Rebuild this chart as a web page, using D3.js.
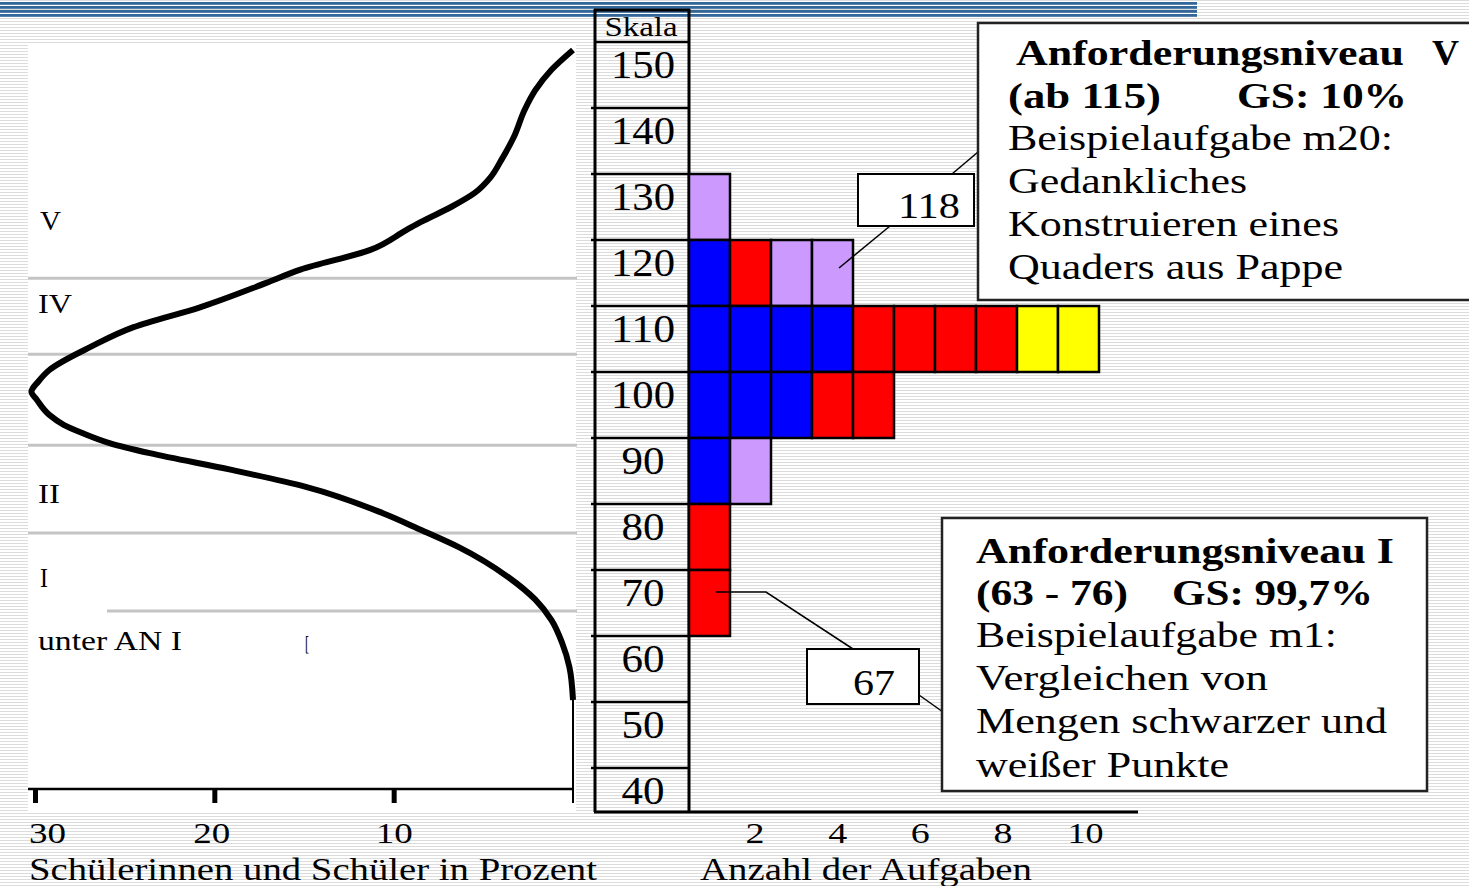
<!DOCTYPE html>
<html>
<head>
<meta charset="utf-8">
<script src="https://cdnjs.cloudflare.com/ajax/libs/d3/7.8.5/d3.min.js"></script>
<style>
body{margin:0;background:#fff;}
svg{display:block;}
svg text{font-family:"Liberation Serif",Tinos,"Times New Roman",Times,"Nimbus Roman",serif;}
</style>
</head>
<body>
<svg id="chart" width="1469" height="886"></svg>
<script>
// Skala rows and number of tasks (Aufgaben) per row, per colour
var scaleRows = [150,140,130,120,110,100,90,80,70,60,50,40];
var barRows = [130,120,110,100,90,80,70];
var blueTasks = [0,1,4,3,1,0,0];
var redTasks = [0,1,4,2,0,1,1];
var lilacTasks = [1,2,0,0,1,0,0];
var yellowTasks = [0,0,2,0,0,0,0];
var taskTicks = [2,4,6,8,10];

// distribution of pupils (percent) along the scale
var curveScale = [158.8,155.8,152.7,149.7,145.6,142.1,139.5,137.1,135.0,132.7,131.5,128.5,125.5,123.5,119.8,116.8,113.8,110.3,108.6,107.0,105.8,103.5,102.0,100.8,99.2,97.7,95.2,92.6,88.6,86.1,83.5,78.9,75.5,72.4,68.9,65.3,60.3];
var curvePercent = [0.0,1.2,2.1,2.7,3.3,4.0,4.6,5.5,6.8,8.5,9.3,11.3,15.2,17.1,20.8,24.5,26.9,29.2,29.8,30.2,29.9,29.2,28.4,27.4,25.8,23.6,19.1,14.9,10.6,8.5,6.4,3.6,2.1,1.2,0.6,0.2,0.0];
var percentTicks = [30,20,10];

// Anforderungsniveaus on the left panel
var levelBounds = [124.2,112.7,98.9,85.6,73.8];
var levelNames = ["V","IV","II","I","unter AN I"];
var levelLabelAt = [131.5,118.9,90.2,77.4,67.9];

var svg = d3.select('#chart');
var W = 1469, H = 886;
var serif = '"Liberation Serif",Tinos,"Times New Roman",Times,serif';

var y = d3.scaleLinear().domain([160,40]).range([42,834]);
var xTask = d3.scaleLinear().domain([0,10]).range([689,1099]);
var xTaskLabel = d3.scaleLinear().domain([0,10]).range([672,1085]);
var xPct = d3.scaleLinear().domain([0,30]).range([573,35]);
var color = {blue:'#0000ff', red:'#ff0000', lilac:'#cc99ff', yellow:'#ffff00'};

function label(sel, s, x, yb, size, width, bold, anchor){
    var t = sel.append('text').attr('x',x).attr('y',yb).attr('font-size',size)
        .attr('font-family',serif).attr('fill','#000').text(s);
    if (bold) t.attr('font-weight','bold');
    if (anchor) t.attr('text-anchor',anchor);
    if (width) t.attr('textLength',width).attr('lengthAdjust','spacingAndGlyphs');
    return t;
}

// striped slide background
var pat = svg.append('defs').append('pattern').attr('id','stripes')
    .attr('width',8).attr('height',3).attr('patternUnits','userSpaceOnUse');
pat.append('rect').attr('width',8).attr('height',3).attr('fill','#fff');
pat.append('rect').attr('width',8).attr('height',1).attr('fill','#dcdcdc');
svg.append('rect').attr('width',W).attr('height',H).attr('fill','url(#stripes)');

// blue header lines
svg.append('g').selectAll('rect').data([2,6,10,14]).enter().append('rect')
    .attr('x',0).attr('y',d => d).attr('width',1197).attr('height',2.8).attr('fill','#336699');

// ---------- left panel: distribution curve ----------
var left = svg.append('g');
left.append('rect').attr('x',28).attr('y',45).attr('width',548).attr('height',767).attr('fill','#fff');

left.selectAll('line.level').data(levelBounds).enter().append('line')
    .attr('class','level')
    .attr('x1',(d,i) => i == levelBounds.length-1 ? 107 : 28).attr('x2',577)
    .attr('y1',d => y(d)).attr('y2',d => y(d))
    .style('stroke','#c4c4c4').style('stroke-width',3);

var levelWidths = [21,34,22,8,144];
var levelX = [40,38,38,40,38];
levelNames.forEach(function(n,i){
    label(left, n, levelX[i], y(levelLabelAt[i]), 27, levelWidths[i]);
});
label(left, '[', 305, y(levelLabelAt[4]), 22, 4);

var curve = curveScale.map((v,i) => [xPct(curvePercent[i]), y(v)]);
left.append('path')
    .attr('d', d3.line().curve(d3.curveMonotoneY)(curve))
    .attr('fill','none').style('stroke','#000').style('stroke-width',6)
    .style('stroke-linejoin','round');
left.append('line')
    .attr('x1',xPct(0)).attr('x2',xPct(0)).attr('y1',y(curveScale[curveScale.length-1])).attr('y2',803)
    .style('stroke','#000').style('stroke-width',2);

var pAxis = left.append('g').attr('transform','translate(0,789)')
    .call(d3.axisBottom(xPct).tickValues(percentTicks).tickSize(14).tickPadding(19).tickSizeOuter(0));
pAxis.select('.domain').remove();
pAxis.selectAll('.tick line').style('stroke','#000').style('stroke-width',5);
pAxis.selectAll('.tick text').attr('font-size',30).attr('font-family',serif)
    .attr('dx',d => d == 30 ? 12 : (d == 20 ? -3 : 0))
    .attr('fill','#000').attr('textLength',37).attr('lengthAdjust','spacingAndGlyphs');
left.append('line').attr('x1',28).attr('x2',573).attr('y1',789).attr('y2',789)
    .style('stroke','#000').style('stroke-width',2.5);

label(svg, 'Schülerinnen und Schüler in Prozent', 29, 880, 31, 568);

// ---------- Skala table ----------
var table = svg.append('g');
scaleRows.forEach(function(v){
    label(table, v, 643, y(v+10)+36, 40, v >= 100 ? 64 : 43, false, 'middle');
});
label(table, 'Skala', 641, 36, 27, 73, false, 'middle');

table.selectAll('line.row').data(scaleRows.slice(0,-1)).enter().append('line')
    .attr('class','row')
    .attr('x1',591).attr('x2',689).attr('y1',d => y(d)).attr('y2',d => y(d))
    .style('stroke','#000').style('stroke-width',2.5);
table.append('line').attr('x1',595).attr('x2',689).attr('y1',42).attr('y2',42).style('stroke','#000').style('stroke-width',2.5);
table.append('line').attr('x1',594).attr('x2',690).attr('y1',10).attr('y2',10).style('stroke','#000').style('stroke-width',3);
[595,689].forEach(function(x){
    table.append('line').attr('x1',x).attr('x2',x).attr('y1',9).attr('y2',812).style('stroke','#000').style('stroke-width',3);
});

// ---------- task cells ----------
var cells = [];
barRows.forEach(function(v,i){
    var seq = [];
    [['blue',blueTasks],['red',redTasks],['lilac',lilacTasks],['yellow',yellowTasks]].forEach(function(s){
        for (var k = 0; k < s[1][i]; k++) seq.push(s[0]);
    });
    seq.forEach((c,j) => cells.push({row:v, col:j, color:c}));
});
svg.append('g').selectAll('rect').data(cells).enter().append('rect')
    .attr('x',d => xTask(d.col)).attr('y',d => y(d.row+10))
    .attr('width',xTask(1)-xTask(0)).attr('height',y(0)-y(10))
    .attr('fill',d => color[d.color])
    .style('stroke','#000').style('stroke-width',2.5);

var tAxis = svg.append('g').attr('transform','translate(0,812)')
    .call(d3.axisBottom(xTaskLabel).tickValues(taskTicks).tickSize(0).tickPadding(10));
tAxis.select('.domain').remove();
tAxis.selectAll('.tick text').attr('font-size',30).attr('font-family',serif)
    .attr('fill','#000').attr('textLength',d => d >= 10 ? 36 : 19).attr('lengthAdjust','spacingAndGlyphs');
svg.append('line').attr('x1',594).attr('x2',1138).attr('y1',812).attr('y2',812)
    .style('stroke','#000').style('stroke-width',3);
label(svg, 'Anzahl der Aufgaben', 700, 880, 31, 332);

// ---------- callouts ----------
var notes = svg.append('g');
function leader(pts){
    notes.append('path').attr('d',d3.line()(pts)).attr('fill','none').style('stroke','#000').style('stroke-width',1.5);
}
leader([[839,268],[890,226]]);
leader([[952,174],[978,152]]);
leader([[716,592],[766,592],[853,649]]);
leader([[919,695],[943,712]]);

notes.append('rect').attr('x',858).attr('y',174).attr('width',116).attr('height',52)
    .attr('fill','#fff').style('stroke','#000').style('stroke-width',2);
label(notes, '118', 898, 218, 35, 62);
notes.append('rect').attr('x',807).attr('y',649).attr('width',112).attr('height',55)
    .attr('fill','#fff').style('stroke','#000').style('stroke-width',2);
label(notes, '67', 853, 695, 35, 42);

notes.append('rect').attr('x',978).attr('y',23).attr('width',520).attr('height',277)
    .attr('fill','#fff').style('stroke','#222').style('stroke-width',2.5);
[['Anforderungsniveau',1016,65,388,true],['V',1432,65,27,true],
 ['(ab 115)',1008,108,153,true],['GS: 10%',1237,108,170,true],
 ['Beispielaufgabe m20:',1008,150,385],['Gedankliches',1008,193,239],
 ['Konstruieren eines',1008,236,331],['Quaders aus Pappe',1008,279,335]
].forEach(d => label(notes, d[0], d[1], d[2], 35, d[3], d[4]));

notes.append('rect').attr('x',942).attr('y',518).attr('width',485).attr('height',273)
    .attr('fill','#fff').style('stroke','#222').style('stroke-width',2.5);
[['Anforderungsniveau I',976,563,418,true],
 ['(63 - 76)',976,605,152,true],['GS: 99,7%',1172,605,201,true],
 ['Beispielaufgabe m1:',976,647,361],['Vergleichen von',976,690,292],
 ['Mengen schwarzer und',976,733,411],['weißer Punkte',976,777,253]
].forEach(d => label(notes, d[0], d[1], d[2], 35, d[3], d[4]));
</script>
</body>
</html>
